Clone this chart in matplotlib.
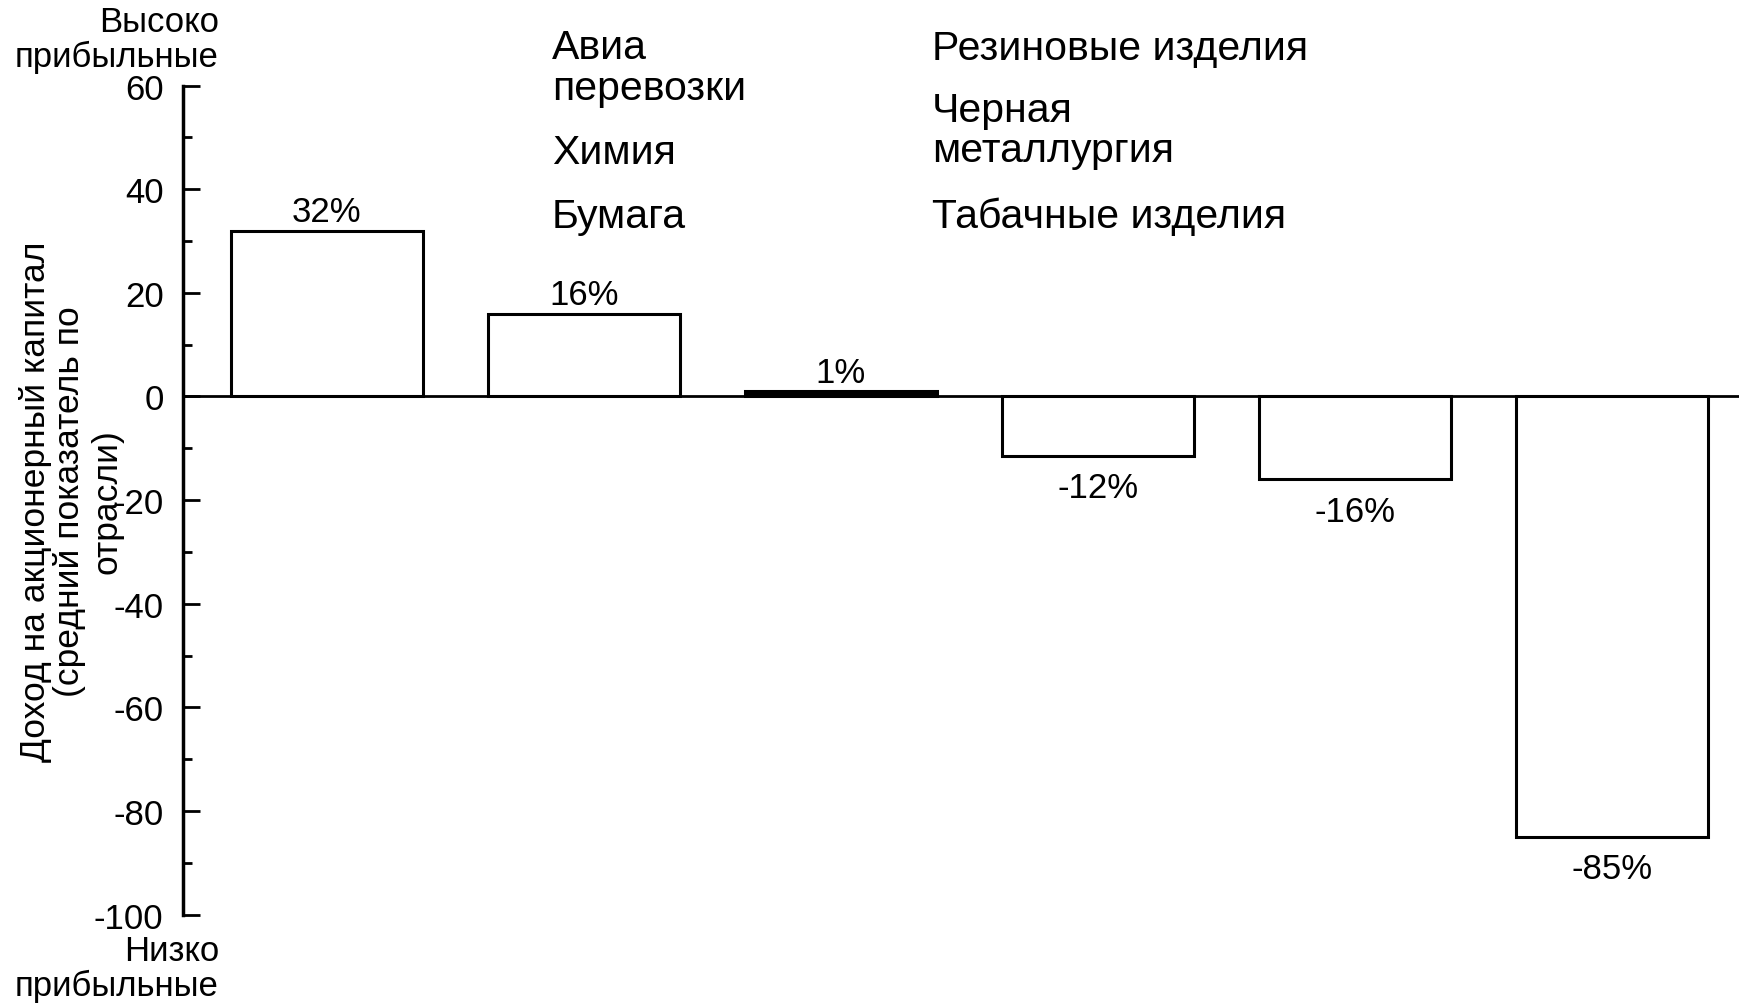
import matplotlib
matplotlib.use("Agg")
import matplotlib.pyplot as plt
from matplotlib.ticker import MultipleLocator

plt.rcParams['font.family'] = ['Liberation Sans', 'DejaVu Sans']
plt.rcParams['axes.unicode_minus'] = False

# data
bar_values = [32, 16, 1, -11.5, -16, -85]
bar_labels = ["32%", "16%", "1%", "-12%", "-16%", "-85%"]
high_group = ["Авиа\nперевозки", "Химия", "Бумага"]
low_group = ["Резиновые изделия", "Черная\nметаллургия", "Табачные изделия"]
y_ticks = [-100, -80, -60, -40, -20, 0, 20, 40, 60]
ylabel_lines = ["Доход на акционерный капитал", "(средний показатель по", "отрасли)"]

FS = 25
fig = plt.figure(figsize=(17.4, 10.04), dpi=100)
ax = fig.add_axes([0.1052, 0.0881, 0.8948, 0.8256])

x = list(range(len(bar_values)))
faces = ['black' if abs(v) < 2 else 'white' for v in bar_values]
ax.bar(x, bar_values, width=0.747, color=faces, edgecolor='black', linewidth=2.2, zorder=2)
ax.axhline(0, color='black', lw=2, zorder=3)

for xi, v, lab in zip(x, bar_values, bar_labels):
    if v >= 0:
        ax.annotate(lab, (xi, v), xytext=(0, 7), textcoords='offset points',
                    ha='center', va='baseline', fontsize=FS)
    else:
        ax.annotate(lab, (xi, v), xytext=(0, -11), textcoords='offset points',
                    ha='center', va='top', fontsize=FS)

ax.set_xlim(-0.559, 5.497)
ax.set_ylim(-100, 60)
ax.set_xticks([])
ax.set_yticks(y_ticks)
ax.yaxis.set_minor_locator(MultipleLocator(10))
for s in ['top', 'right', 'bottom']:
    ax.spines[s].set_visible(False)
ax.spines['left'].set_linewidth(2.5)
ax.spines['left'].set_bounds(-100, 60)
ax.tick_params(axis='y', which='major', direction='in', length=12, width=2, pad=14, labelsize=FS)
ax.tick_params(axis='y', which='minor', direction='in', length=6.5, width=2)
ax.patch.set_visible(False)

# y-axis title, one rotated line each
for line, xp in zip(ylabel_lines, [35.5, 69.5, 107.5]):
    fig.text(xp / 1740, 0.5, line, rotation=90, ha='center', va='center', fontsize=25.5)

fig.text(219 / 1740, 1 - 40 / 1004, "Высоко\nприбыльные", ha='right', va='center',
         multialignment='right', fontsize=FS, linespacing=1.05)
fig.text(219 / 1740, 1 - 969 / 1004, "Низко\nприбыльные", ha='right', va='center',
         multialignment='right', fontsize=FS, linespacing=1.05)

# industry groups at top
high_y = [68.5, 152.5, 217]
low_y = [48.5, 131, 217]
for txt, yy in zip(high_group, high_y):
    fig.text(552 / 1740, 1 - yy / 1004, txt, ha='left', va='center', fontsize=29.5, linespacing=1.1)
for txt, yy in zip(low_group, low_y):
    fig.text(932 / 1740, 1 - yy / 1004, txt, ha='left', va='center', fontsize=29.5, linespacing=1.1)

fig.savefig("out.png", dpi=100, facecolor='white')
